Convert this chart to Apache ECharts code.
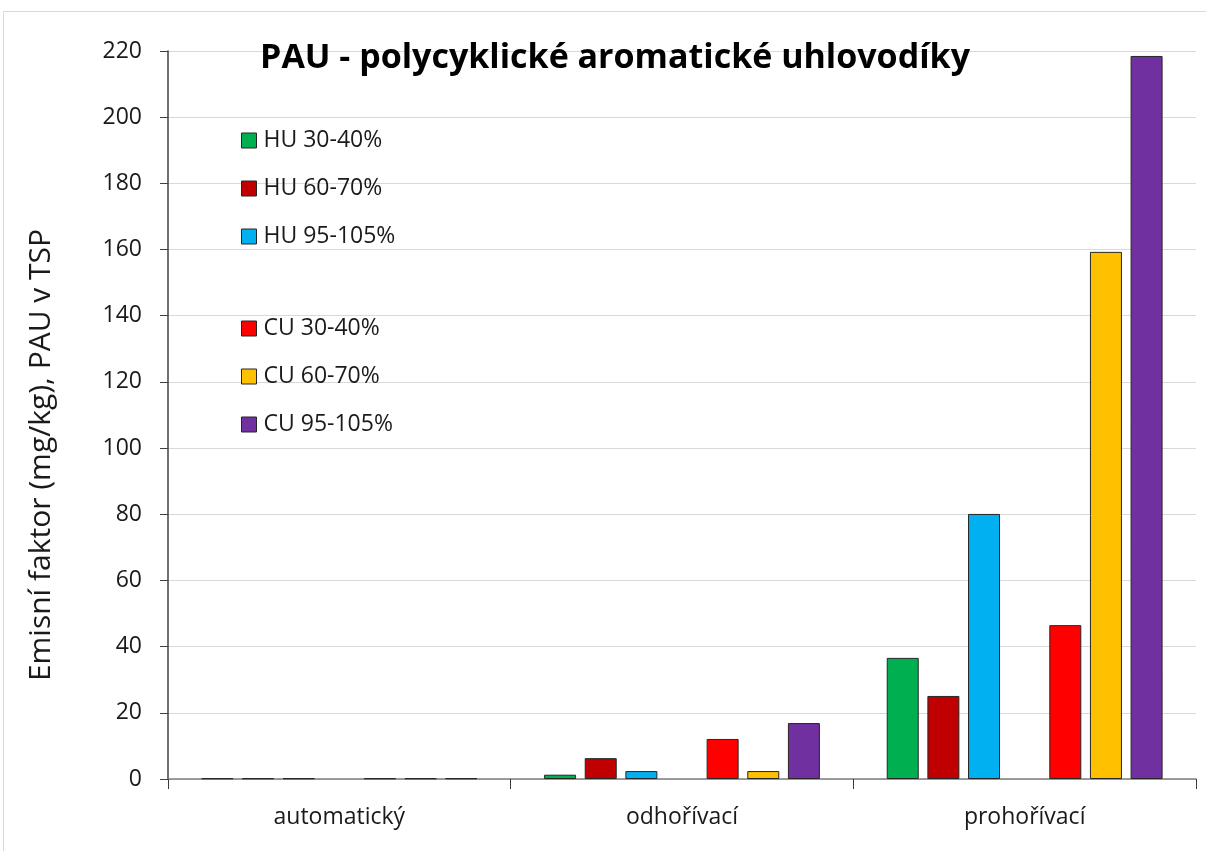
<!DOCTYPE html>
<html>
<head>
<meta charset="utf-8">
<script src="https://cdn.jsdelivr.net/npm/echarts@6/dist/echarts.min.js"></script>
<style>
html, body { margin: 0; padding: 0; background: #fff; }
#chart { width: 1206px; height: 851px; }
</style>
</head>
<body>
<div id="chart"></div>
<script>
// kategorie kotlu
var categories = ['automatický', 'odhořívací', 'prohořívací'];
var seriesNames = ['HU 30-40%', 'HU 60-70%', 'HU 95-105%', 'CU 30-40%', 'CU 60-70%', 'CU 95-105%'];
var seriesColors = ['#00B050', '#C00000', '#00B0F0', '#FF0000', '#FFC000', '#7030A0'];
// hodnoty
var hu3040 = [0.2, 1.3, 36.6];
var hu6070 = [0.2, 6.3, 25.1];
var hu95105 = [0.2, 2.4, 80.1];
var cu3040 = [0.2, 12.1, 46.5];
var cu6070 = [0.2, 2.4, 159.3];
var cu95105 = [0.2, 16.9, 218.5];
var yTicks = [0, 20, 40, 60, 80, 100, 120, 140, 160, 180, 200, 220];

var values = [hu3040, hu6070, hu95105, cu3040, cu6070, cu95105];
var font = '"Open Sans", "Noto Sans", sans-serif';

var series = [];
for (var i = 0; i < values.length; i++) {
    series.push({
        name: seriesNames[i],
        type: 'bar',
        data: values[i],
        barWidth: 32,
        barGap: '27%',
        itemStyle: { color: seriesColors[i], borderColor: '#262626', borderWidth: 1 }
    });
    // mezera mezi skupinou HU a CU
    if (i == 2) {
        series.push({ name: '', type: 'bar', data: [null, null, null], barWidth: 32, barGap: '27%' });
    }
}

function legend(top, names) {
    return {
        orient: 'vertical',
        left: 236,
        top: top,
        itemWidth: 15,
        itemHeight: 15,
        itemGap: 25,
        icon: 'rect',
        selectedMode: false,
        textStyle: { fontFamily: font, fontSize: 23, color: '#1a1a1a', padding: [0, 0, 0, 2] },
        data: names.map(function (n) {
            return { name: n, itemStyle: { borderColor: '#262626', borderWidth: 1 } };
        })
    };
}

var chart = echarts.init(document.getElementById('chart'));
chart.setOption({
    backgroundColor: '#fff',
    animation: false,
    graphic: [{
        type: 'rect',
        shape: { x: 3.5, y: 11.5, width: 1210, height: 850 },
        style: { fill: 'none', stroke: '#d9d9d9', lineWidth: 1 }
    }],
    title: {
        text: 'PAU - polycyklické aromatické uhlovodíky',
        left: 610,
        textAlign: 'center',
        top: 36,
        textStyle: { fontFamily: font, fontSize: 34, fontWeight: 'bold', color: '#000' }
    },
    legend: [
        legend(124, seriesNames.slice(0, 3)),
        legend(312, seriesNames.slice(3))
    ],
    grid: { left: 168, right: 10, top: 51, bottom: 72 },
    xAxis: {
        type: 'category',
        data: categories,
        axisLine: { lineStyle: { color: '#7f7f7f', width: 1.5 } },
        axisTick: { show: true, length: 10, lineStyle: { color: '#3a3a3a' } },
        axisLabel: { fontFamily: font, fontSize: 23, color: '#1a1a1a', margin: 27 }
    },
    yAxis: {
        type: 'value',
        min: yTicks[0],
        max: yTicks[yTicks.length - 1],
        interval: 20,
        name: 'Emisní faktor (mg/kg), PAU v TSP',
        nameLocation: 'middle',
        nameGap: 112,
        nameTextStyle: { fontFamily: font, fontSize: 30, color: '#1a1a1a', padding: [0, 80, 0, 0] },
        axisLine: { show: true, lineStyle: { color: '#404040', width: 1.5 } },
        axisTick: { show: true, inside: false, length: 8, lineStyle: { color: '#404040' } },
        splitLine: { lineStyle: { color: '#d9d9d9' } },
        axisLabel: { fontFamily: font, fontSize: 23, color: '#1a1a1a', margin: 26 }
    },
    series: series
});
</script>
</body>
</html>
